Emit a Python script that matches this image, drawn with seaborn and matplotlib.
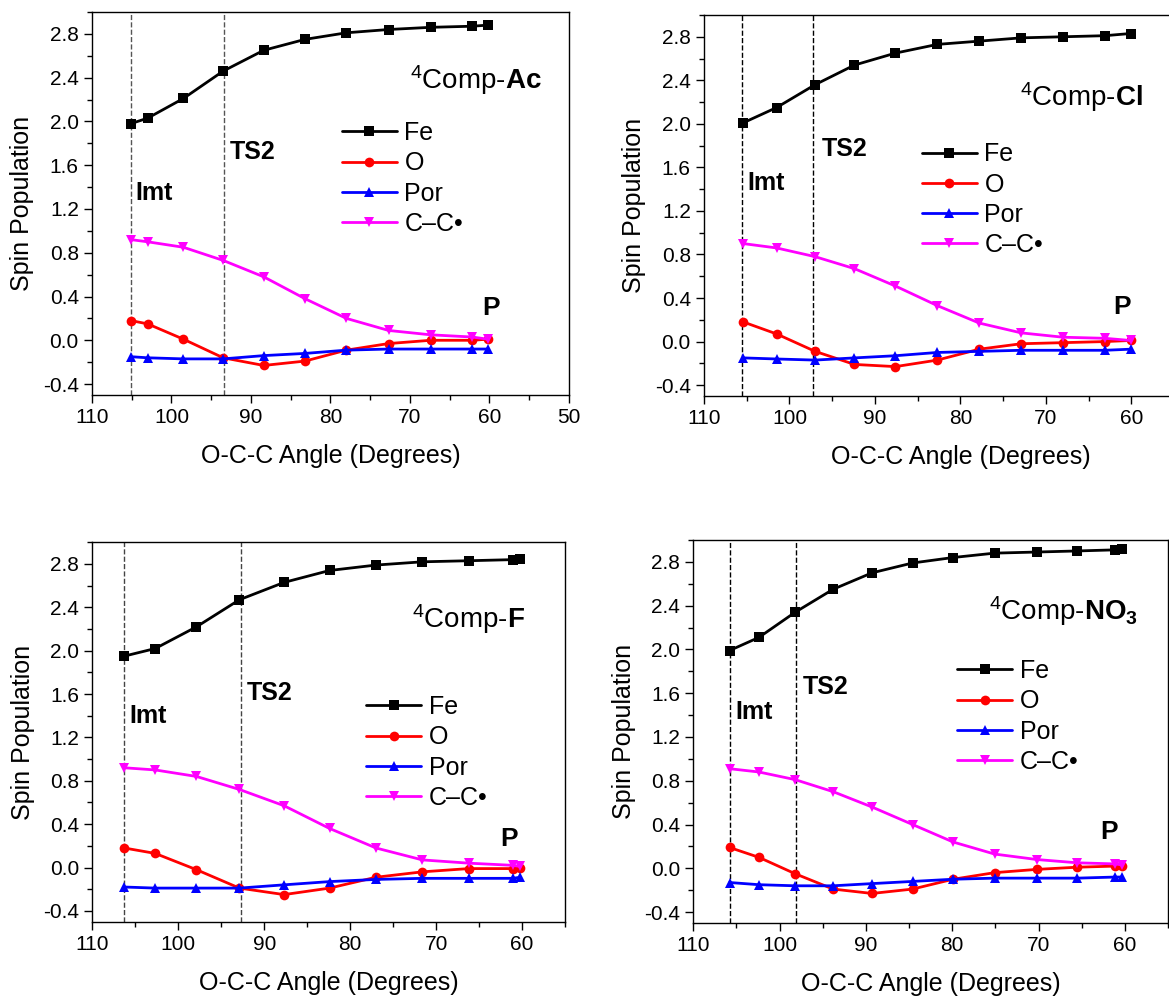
#!/usr/bin/env python3
"""
Spin population vs O-C-C angle, four complexes (Ac, Cl, F, NO3).
"""
import numpy as np
import pandas as pd
import matplotlib
matplotlib.use('Agg')
import matplotlib.pyplot as plt
from matplotlib.ticker import MultipleLocator
import seaborn as sns

# --------------------------
# DATA
# --------------------------
atoms = ['Fe', 'O', 'Por', 'C\u2013C\u2022']

ac_angle = [105.1, 103.0, 98.5, 93.5, 88.4, 83.2, 78.0, 72.7, 67.4, 62.2, 60.2]
ac_fe = [1.98, 2.03, 2.21, 2.46, 2.65, 2.75, 2.81, 2.84, 2.86, 2.87, 2.88]
ac_o = [0.18, 0.15, 0.01, -0.16, -0.23, -0.19, -0.09, -0.03, 0.00, 0.00, 0.01]
ac_por = [-0.15, -0.16, -0.17, -0.17, -0.14, -0.12, -0.09, -0.08, -0.08, -0.08, -0.08]
ac_cc = [0.92, 0.90, 0.85, 0.73, 0.58, 0.38, 0.20, 0.09, 0.05, 0.03, 0.01]

cl_angle = [105.4, 101.5, 97.0, 92.4, 87.6, 82.7, 77.8, 72.9, 68.0, 63.1, 60.1]
cl_fe = [2.01, 2.15, 2.36, 2.54, 2.65, 2.73, 2.76, 2.79, 2.80, 2.81, 2.83]
cl_o = [0.18, 0.07, -0.09, -0.21, -0.23, -0.17, -0.07, -0.02, -0.01, 0.00, 0.01]
cl_por = [-0.15, -0.16, -0.17, -0.15, -0.13, -0.10, -0.09, -0.08, -0.08, -0.08, -0.07]
cl_cc = [0.90, 0.86, 0.78, 0.67, 0.51, 0.33, 0.17, 0.08, 0.04, 0.03, 0.01]

f_angle = [106.3, 102.7, 97.9, 92.9, 87.7, 82.4, 77.0, 71.6, 66.2, 61.1, 60.2]
f_fe = [1.95, 2.02, 2.22, 2.47, 2.63, 2.74, 2.79, 2.82, 2.83, 2.84, 2.85]
f_o = [0.18, 0.13, -0.02, -0.19, -0.25, -0.19, -0.09, -0.04, -0.01, -0.01, 0.00]
f_por = [-0.18, -0.19, -0.19, -0.19, -0.16, -0.13, -0.11, -0.10, -0.10, -0.10, -0.09]
f_cc = [0.92, 0.90, 0.84, 0.72, 0.57, 0.36, 0.18, 0.07, 0.04, 0.02, 0.01]

no3_angle = [105.8, 102.4, 98.2, 93.8, 89.3, 84.6, 79.9, 75.1, 70.2, 65.5, 61.1, 60.3]
no3_fe = [1.99, 2.11, 2.34, 2.55, 2.70, 2.79, 2.84, 2.88, 2.89, 2.90, 2.91, 2.92]
no3_o = [0.19, 0.10, -0.05, -0.19, -0.23, -0.19, -0.10, -0.04, -0.01, 0.01, 0.02, 0.02]
no3_por = [-0.13, -0.15, -0.16, -0.16, -0.14, -0.12, -0.10, -0.09, -0.09, -0.09, -0.08, -0.08]
no3_cc = [0.91, 0.88, 0.81, 0.70, 0.56, 0.40, 0.24, 0.13, 0.08, 0.05, 0.04, 0.03]

# Imt / TS2 angles (dashed lines)
imt_angles = [105.1, 105.5, 106.3, 105.8]
ts2_angles = [93.4, 97.2, 92.7, 98.1]

titles = [r'$^{4}$Comp-$\mathbf{Ac}$', r'$^{4}$Comp-$\mathbf{Cl}$',
          r'$^{4}$Comp-$\mathbf{F}$', r'$^{4}$Comp-$\mathbf{NO}_{\mathbf{3}}$']

# --------------------------
# STYLE
# --------------------------
sns.set_theme(style='ticks')
plt.rcParams['font.family'] = ['Liberation Sans', 'DejaVu Sans']
plt.rcParams['mathtext.fontset'] = 'custom'
plt.rcParams['mathtext.rm'] = 'Liberation Sans'
plt.rcParams['mathtext.bf'] = 'Liberation Sans:bold'
plt.rcParams['mathtext.it'] = 'Liberation Sans:italic'
plt.rcParams['axes.unicode_minus'] = False
for k in ['text.color', 'axes.labelcolor', 'xtick.color', 'ytick.color', 'axes.edgecolor']:
    plt.rcParams[k] = 'black'

palette = {atoms[0]: 'black', atoms[1]: '#ff0000', atoms[2]: '#0000ff', atoms[3]: '#ff00ff'}
markers = {atoms[0]: 's', atoms[1]: 'o', atoms[2]: '^', atoms[3]: 'v'}

# axes rect [left, bottom, width, height], xlim right, legend anchor, text spots
panels = [
    dict(rect=[0.0787, 0.605, 0.408, 0.383], xr=50, leg=(0.524, 0.715),
         imt=(0.090, 0.527), ts2=(0.289, 0.634), p=(0.818, 0.227), ttl=(0.943, 0.822), vc='#555555'),
    dict(rect=[0.6022, 0.604, 0.4388, 0.381], xr=50, leg=(0.425, 0.666),
         imt=(0.084, 0.559), ts2=(0.230, 0.648), p=(0.797, 0.234), ttl=(0.856, 0.785), vc='black'),
    dict(rect=[0.0791, 0.0783, 0.4042, 0.3794], xr=55, leg=(0.579, 0.597),
         imt=(0.079, 0.543), ts2=(0.327, 0.603), p=(0.862, 0.218), ttl=(0.915, 0.798), vc='#444444'),
    dict(rect=[0.5931, 0.077, 0.4061, 0.383], xr=55, leg=(0.556, 0.689),
         imt=(0.088, 0.551), ts2=(0.231, 0.616), p=(0.857, 0.238), ttl=(0.937, 0.815), vc='black'),
]

series = [
    (ac_angle, [ac_fe, ac_o, ac_por, ac_cc]),
    (cl_angle, [cl_fe, cl_o, cl_por, cl_cc]),
    (f_angle, [f_fe, f_o, f_por, f_cc]),
    (no3_angle, [no3_fe, no3_o, no3_por, no3_cc]),
]


def long_frame(angle, vals):
    rows = []
    for name, v in zip(atoms, vals):
        for a, s in zip(angle, v):
            rows.append((a, s, name))
    return pd.DataFrame(rows, columns=['angle', 'spin', 'atom'])


fig = plt.figure(figsize=(11.69, 10), dpi=100)

for i, (angle, vals) in enumerate(series):
    cfg = panels[i]
    ax = fig.add_axes(cfg['rect'])
    df = long_frame(angle, vals)
    sns.lineplot(data=df, x='angle', y='spin', hue='atom', style='atom',
                 hue_order=atoms, style_order=atoms, palette=palette,
                 markers=markers, dashes=False, sort=False, errorbar=None,
                 lw=2, markersize=7, markeredgewidth=0, ax=ax)

    ax.axvline(imt_angles[i], color=cfg['vc'], ls='--', lw=1, zorder=0)
    ax.axvline(ts2_angles[i], color=cfg['vc'], ls='--', lw=1, zorder=0)

    ax.set_xlim(110, cfg['xr'])
    ax.set_ylim(-0.5, 3.0)
    # major ticks only where the label fits inside the picture
    ax.set_xticks(np.arange(110, 49, -10) if i == 0 else np.arange(110, 59, -10))
    ax.xaxis.set_minor_locator(MultipleLocator(5))
    ax.set_yticks(np.arange(-0.4, 2.81, 0.4))
    ax.yaxis.set_minor_locator(MultipleLocator(0.2))
    ax.yaxis.set_major_formatter(plt.FormatStrFormatter('%.1f'))
    ax.xaxis.set_major_formatter(plt.FormatStrFormatter('%d'))
    ax.tick_params(which='major', length=6, width=1, labelsize=15, direction='out')
    ax.tick_params(which='minor', length=3.5, width=1, direction='out')
    for sp in ax.spines.values():
        sp.set_linewidth(1)

    ax.set_xlabel('O-C-C Angle (Degrees)', fontsize=18, labelpad=12)
    ax.set_ylabel('Spin Population', fontsize=18, labelpad=6)

    h, l = ax.get_legend_handles_labels()
    ax.legend(h, l, loc='upper left', bbox_to_anchor=cfg['leg'], frameon=False,
              fontsize=18, handlelength=2.2, handletextpad=0.3, labelspacing=0.25,
              borderpad=0, borderaxespad=0)

    ax.text(*cfg['imt'], 'Imt', transform=ax.transAxes, fontsize=18, fontweight='bold',
            ha='left', va='center')
    ax.text(*cfg['ts2'], 'TS2', transform=ax.transAxes, fontsize=18, fontweight='bold',
            ha='left', va='center')
    ax.text(*cfg['p'], 'P', transform=ax.transAxes, fontsize=19, fontweight='bold',
            ha='left', va='center')
    ax.text(*cfg['ttl'], titles[i], transform=ax.transAxes, fontsize=20,
            ha='right', va='center')

fig.savefig('out.png', dpi=100)
